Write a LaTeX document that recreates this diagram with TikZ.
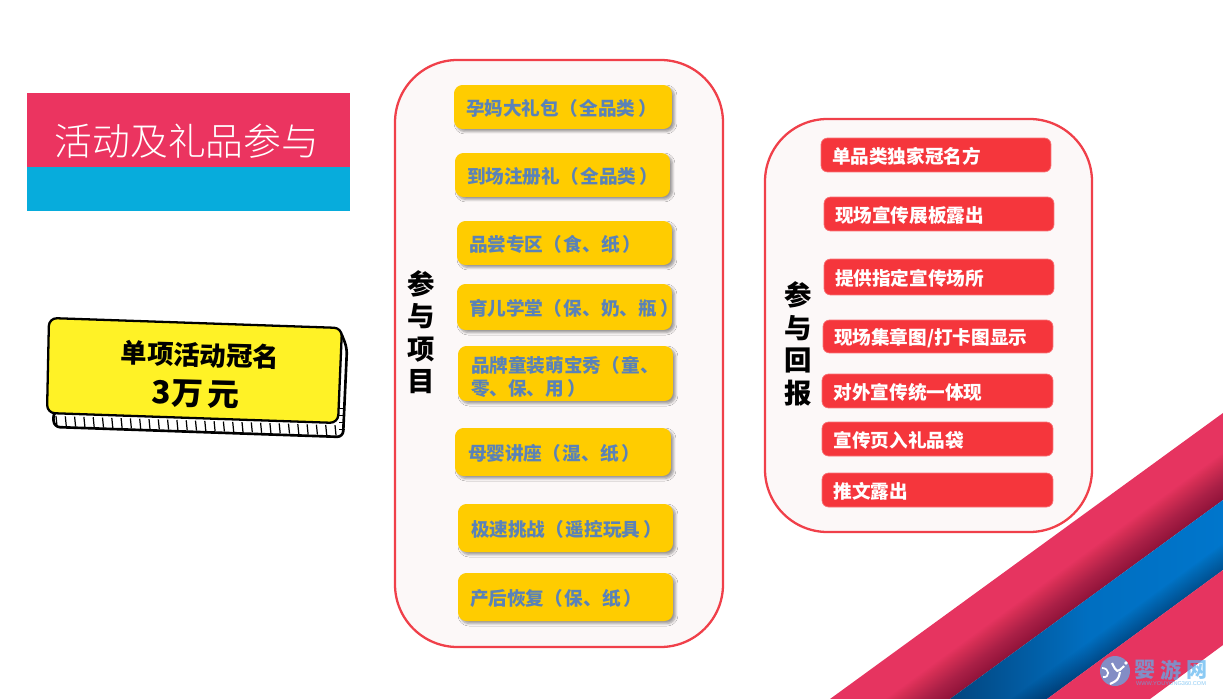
\documentclass[tikz,border=0pt]{standalone}
\usepackage{fontspec}
\usepackage{xcolor}
\setmainfont{Noto Sans CJK SC}
\setsansfont{Noto Sans CJK SC}
\newfontfamily\logofont{Liberation Sans}
\newfontfamily\lightfont{Noto Sans CJK SC Light}
\newfontfamily\heavyfont{Noto Sans CJK SC Black}
\usetikzlibrary{calc,positioning,shadows.blur}
\definecolor{bannerred}{HTML}{EB3460}
\definecolor{bannerblue}{HTML}{07ACDC}
\definecolor{cardyellow}{HTML}{FFF226}
\definecolor{panelfill}{HTML}{FCF8F8}
\definecolor{panelline}{HTML}{F0404A}
\definecolor{giftyellow}{HTML}{FFCC00}
\definecolor{gifttext}{HTML}{5A82B8}
\definecolor{backred}{HTML}{F5363C}
\definecolor{stripered}{HTML}{E63460}
\definecolor{stripeblue}{HTML}{0076CC}
\definecolor{stripedeep}{HTML}{03457E}
\definecolor{logoblue}{HTML}{5AB4F0}
\tikzset{
	panelbox/.style={draw=panelline, fill=panelfill, line width=1.3pt, rounded corners=1.25cm},
	giftbox/.style={fill=giftyellow, text=gifttext, rounded corners=0.17cm, inner xsep=0pt, inner ysep=0pt, text width=#1, align=left, font=\bfseries\fontsize{10.6}{13.6}\selectfont, execute at begin node={\vspace*{-0.08cm}}, blur shadow={shadow xshift=0.05cm, shadow yshift=-0.05cm, shadow blur steps=5, shadow blur radius=0.05cm}},
	backbox/.style={fill=backred, draw=backred!70!white, line width=0.4pt, text=white, rounded corners=0.13cm, inner xsep=0pt, inner ysep=0pt, text width=4.6cm, align=left, font=\bfseries\fontsize{10.6}{13}\selectfont, execute at begin node={\vspace*{-0.08cm}}},
	sidelabel/.style={align=center, inner sep=0pt, text=black, font=\fontsize{15.6}{18.5}\selectfont\heavyfont},
	logotext/.style={inner sep=0pt, text=logoblue, text opacity=0.7},
}
\begin{document}
\begin{tikzpicture}[x=0.02cm, y=-0.02cm]
		\useasboundingbox (0,0) rectangle (1223,699);
		\fill[white] (0,0) rectangle (1223,699);
		% stripes in the corner
		\fill[stripered] (1223,413) -- (830,699) -- (950,699) -- (1223,500) -- cycle;
		\begin{scope}
			\clip (1223,413) -- (830,699) -- (950,699) -- (1223,500) -- cycle;
			\foreach \dx in {2,4,...,64} {
				\fill[black, opacity=0.011] (950-\dx,699) -- (1323-\dx,427) -- (1323,427) -- (950,699) -- cycle;
			}
		\end{scope}
		\shade[left color=stripedeep, right color=stripeblue, middle color=stripeblue!85!stripedeep] (950,699) -- (1223,500) -- (1223,570) -- (1047,699) -- cycle;
		\begin{scope}
			\clip (950,699) -- (1223,500) -- (1223,570) -- (1047,699) -- cycle;
			\foreach \dx in {2,4,...,36} {
				\fill[black, opacity=0.014] (1047-\dx,699) -- (1323-\dx,497) -- (1323,497) -- (1047,699) -- cycle;
			}
		\end{scope}
		\fill[stripered] (1047,699) -- (1223,570) -- (1223,645) -- (1150,699) -- cycle;
		% title banner
		\fill[bannerred] (27,93) rectangle (350,167);
		\fill[bannerblue] (27,167) rectangle (350,211);
		\node[text=white, inner sep=0pt, font=\lightfont\fontsize{21.5}{24}\selectfont] (title) at (187,141) {活动及礼品参与};
		% price card
		\fill[white, draw=black, line width=1.5pt, rounded corners=0.12cm] (53,412) -- (54,427) -- (343,437) -- (347,348) -- (340,330) -- cycle;
		\foreach \i in {0,...,30} {
			\draw[black, line width=0.7pt] (56+9.3*\i,416+0.033*9.3*\i) -- (57+9.3*\i,426+0.033*9.3*\i);
		}
		\foreach \j in {0,...,3} {
			\draw[black, line width=0.5pt] (339,429-\j*7) -- (345,429-\j*7);
		}
		\filldraw[fill=cardyellow, draw=black, line width=1.3pt, rounded corners=0.16cm] (49,318) -- (342,328) -- (338,423) -- (47,413) -- cycle;
		\node[inner sep=0pt, rotate=-1.5, font=\bfseries\fontsize{15}{16}\selectfont] (cardname) at (200,355) {单项活动冠名};
		\node[inner sep=0pt, rotate=-1.5, font=\bfseries\fontsize{18}{20}\selectfont] (cardprice) at (196,394) {3万\,元};
		% left panel
		\draw[panelbox] (395,60) rectangle (723,647);
		\node[sidelabel] (joinlabel) at (421,332) {参\\与\\项\\目};
		\node[giftbox=4.36cm, minimum width=4.36cm, minimum height=0.88cm] (gift1) at (563,107) {\hspace*{0.24cm}孕妈大礼包（\kern1pt全品类\,）};
		\node[giftbox=4.30cm, minimum width=4.30cm, minimum height=0.88cm] (gift2) at (562.5,175) {\hspace*{0.24cm}到场注册礼（\kern1pt全品类\,）};
		\node[giftbox=4.30cm, minimum width=4.30cm, minimum height=0.88cm] (gift3) at (564.5,243) {\hspace*{0.24cm}品尝专区（\kern1pt食、纸\,）};
		\node[giftbox=4.30cm, minimum width=4.30cm, minimum height=0.92cm] (gift4) at (564.5,307) {\hspace*{0.24cm}育儿学堂（\kern1pt保、奶、瓶\,）};
		\node[giftbox=4.30cm, minimum width=4.30cm, minimum height=1.10cm] (gift5) at (565.5,373.5) {\hspace*{0.26cm}品牌童装萌宝秀（\kern1pt童、\\[2pt]\hspace*{0.26cm}零、保、用\,）\vspace*{-0.14cm}};
		\node[giftbox=4.32cm, minimum width=4.32cm, minimum height=0.96cm] (gift6) at (563,452) {\hspace*{0.26cm}母婴讲座（\kern1pt湿、纸\,）};
		\node[giftbox=4.30cm, minimum width=4.30cm, minimum height=0.96cm] (gift7) at (565.5,528) {\hspace*{0.26cm}极速挑战（\kern1pt遥控玩具\,）};
		\node[giftbox=4.30cm, minimum width=4.30cm, minimum height=0.96cm] (gift8) at (565.5,597) {\hspace*{0.24cm}产后恢复（\kern1pt保、纸\,）};
		% right panel
		\draw[panelbox] (765,119) rectangle (1092,532);
		\node[sidelabel] (backlabel) at (798,344) {参\\与\\回\\报};
		\node[backbox, minimum width=4.6cm, minimum height=0.68cm] (back1) at (936,155) {\hspace*{0.22cm}单品类独家冠名方};
		\node[backbox, minimum width=4.6cm, minimum height=0.68cm] (back2) at (939,214) {\hspace*{0.22cm}现场宣传展板露出};
		\node[backbox, minimum width=4.6cm, minimum height=0.72cm] (back3) at (939,277) {\hspace*{0.22cm}提供指定宣传场所};
		\node[backbox, minimum width=4.6cm, minimum height=0.66cm] (back4) at (938,336.5) {\hspace*{0.22cm}现场集章图/打卡图显示};
		\node[backbox, minimum width=4.62cm, minimum height=0.68cm] (back5) at (937.5,391) {\hspace*{0.22cm}对外宣传统一体现};
		\node[backbox, minimum width=4.62cm, minimum height=0.68cm] (back6) at (937.5,439) {\hspace*{0.22cm}宣传页入礼品袋};
		\node[backbox, minimum width=4.62cm, minimum height=0.68cm] (back7) at (937.5,490) {\hspace*{0.22cm}推文露出};
		% watermark
		\fill[logoblue, opacity=0.7] (1115,671) circle (15);
		\draw[white, line width=1.2pt] (1112,663) .. controls (1117,673) .. (1124,666);
		\draw[white, line width=1.2pt] (1120,672) .. controls (1118,680) .. (1110,684);
		\draw[white, line width=1pt] (1102,668) .. controls (1110,668) and (1110,678) .. (1103,677);
		\fill[white] (1126,663) circle (1.8);
		\node[logotext, font=\bfseries\fontsize{12}{12}\selectfont] (logoname1) at (1145,670) {婴};
		\node[logotext, font=\bfseries\fontsize{12}{12}\selectfont] (logoname2) at (1171,670) {游};
		\node[logotext, font=\bfseries\fontsize{12}{12}\selectfont] (logoname3) at (1197,670) {网};
		\node[logotext, font=\logofont\fontsize{3.2}{4}\selectfont] (logourl) at (1171,684) {WWW.YOUYONG360.COM};
\end{tikzpicture}
\end{document}
